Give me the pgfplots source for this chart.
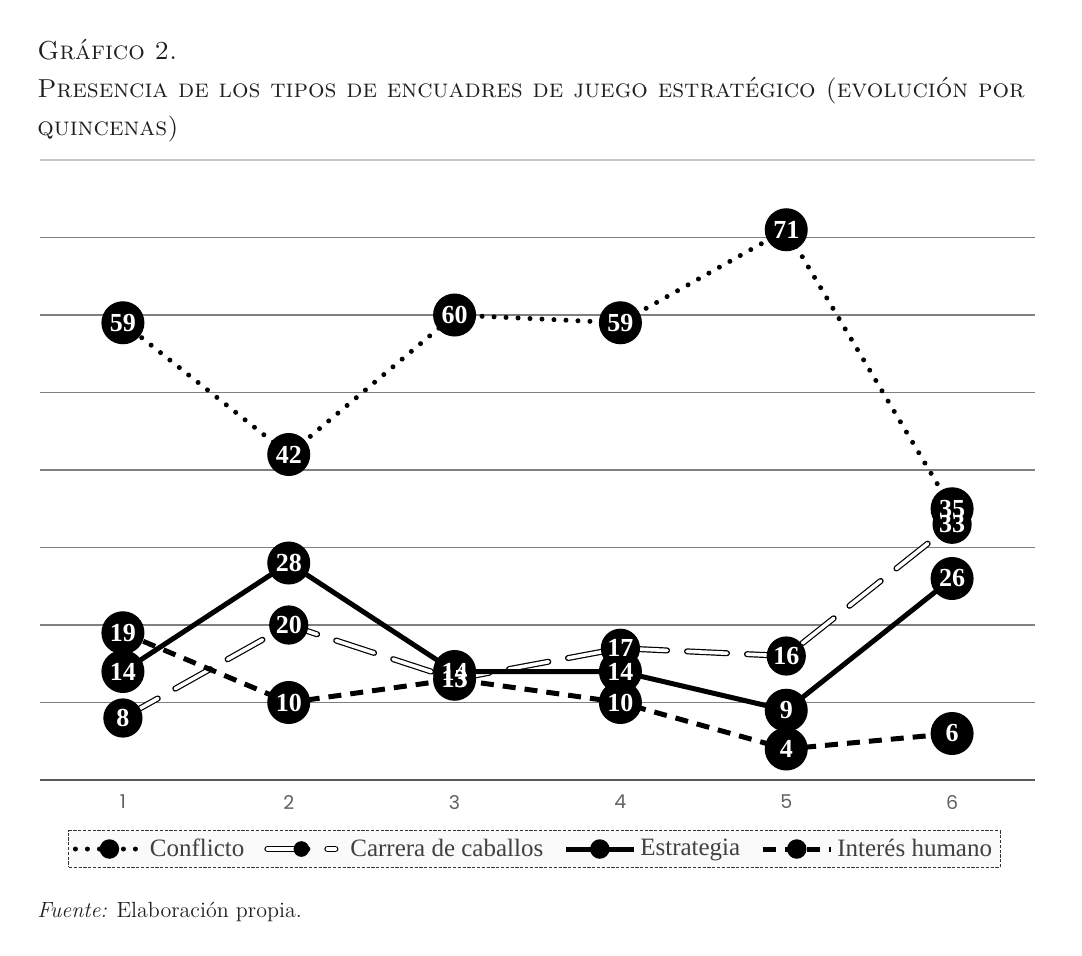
\documentclass[border=0pt]{standalone}
\usepackage{fontspec}
\newfontfamily\timesfont{Liberation Serif}
\newfontfamily\tickfont{Poppins}
\usepackage{pgfplots}
\pgfplotsset{compat=1.18}

\pgfplotstableread{
x conflicto carrera estrategia interes
1 59 8  14 19
2 42 20 28 10
3 60 13 14 13
4 59 17 14 10
5 71 16 9  4
6 35 33 26 6
}\datos

\begin{document}
\begin{tikzpicture}
\path[use as bounding box] (-20pt,-87.5pt) rectangle (521pt,390pt);
\begin{axis}[
    at={(0pt,0pt)}, anchor=origin,
    scale only axis,
    width=497.5pt, height=310pt,
    xmin=0.5, xmax=6.5, ymin=0, ymax=80,
    axis x line*=bottom, axis y line*=left,
    x axis line style={draw=black!65, line width=1.4pt, -},
    y axis line style={draw=none},
    xtick={1,...,6},
    ytick={10,20,...,70},
    yticklabels={},
    extra y ticks={80},
    extra y tick labels={},
    extra y tick style={major grid style={black!22, line width=0.7pt}},
    ymajorgrids,
    major grid style={black!50, line width=0.6pt},
    major tick length=0pt,
    xticklabel style={font=\tickfont\fontsize{9.5}{11}\selectfont, text=black!62, yshift=-4pt,
        /pgf/number format/assume math mode=true},
    clip=false,
    every axis plot/.append style={mark=*, mark size=9.5pt},
    legend columns=4,
    legend style={at={(0.497,-0.081)}, anchor=north,
        draw=black!80, dash pattern=on 1.6pt off 0.8pt, line width=0.5pt,
        fill=black!2,
        font=\timesfont\fontsize{12.5}{14}\selectfont, text=black!75,
        inner xsep=2pt, inner ysep=2pt,
        /tikz/every even column/.append style={column sep=8pt}},
    legend image code/.code={
        \draw[#1, mark size=3.6pt, mark repeat=2, mark phase=2]
            plot coordinates {(0pt,0pt) (17pt,0pt) (34pt,0pt)};
    },
    etiqueta/.style={draw=none, mark=none, forget plot,
        nodes near coords, point meta=explicit symbolic,
        nodes near coords={\pgfplotspointmeta},
        every node near coord/.append style={anchor=center, text=white,
            font=\timesfont\bfseries\fontsize{13}{13}\selectfont, inner sep=0pt}},
]
\addplot[black, line width=2.5pt, line cap=round, dash pattern=on 0pt off 6pt,
    mark options={solid, fill=black}]
    table[x=x, y=conflicto] {\datos};
\addlegendentry{Conflicto}
\addplot[draw=black, line width=0.6pt, double=white, double distance=1.8pt,
    line cap=round, dash pattern=on 20pt off 10pt,
    mark options={solid, fill=black, double=none, line width=0.6pt}]
    table[x=x, y=carrera] {\datos};
\addlegendentry{\hspace{4pt}Carrera de caballos}
\addplot[black, solid, line width=2.5pt, mark options={solid, fill=black}]
    table[x=x, y=estrategia] {\datos};
\addlegendentry{Estrategia}
\addplot[black, line width=2.5pt, dash pattern=on 6.5pt off 4.5pt,
    mark options={solid, fill=black}]
    table[x=x, y=interes] {\datos};
\addlegendentry{Interés humano}
% value labels drawn on top of every marker
\addplot[etiqueta] table[x=x, y=conflicto, meta=conflicto] {\datos};
\addplot[etiqueta] table[x=x, y=carrera, meta=carrera] {\datos};
\addplot[etiqueta] table[x=x, y=estrategia, meta=estrategia] {\datos};
\addplot[etiqueta] table[x=x, y=interes, meta=interes] {\datos};
\end{axis}
\node[anchor=base west, inner sep=0, font=\fontsize{13}{15}\selectfont\scshape, text=black!88]
    at (-1.5pt,360pt) {Gráfico 2.};
\node[anchor=base west, inner sep=0, font=\fontsize{13}{15}\selectfont\scshape, text=black!88]
    at (-1.5pt,341pt) {Presencia de los tipos de encuadres de juego estratégico (evolución por};
\node[anchor=base west, inner sep=0, font=\fontsize{13}{15}\selectfont\scshape, text=black!88]
    at (-1.5pt,322.5pt) {quincenas)};
\node[anchor=base west, inner sep=0, font=\fontsize{11}{13}\selectfont, text=black!88]
    at (-1.5pt,-68.5pt) {\textit{Fuente:} Elaboración propia.};
\end{tikzpicture}
\end{document}
